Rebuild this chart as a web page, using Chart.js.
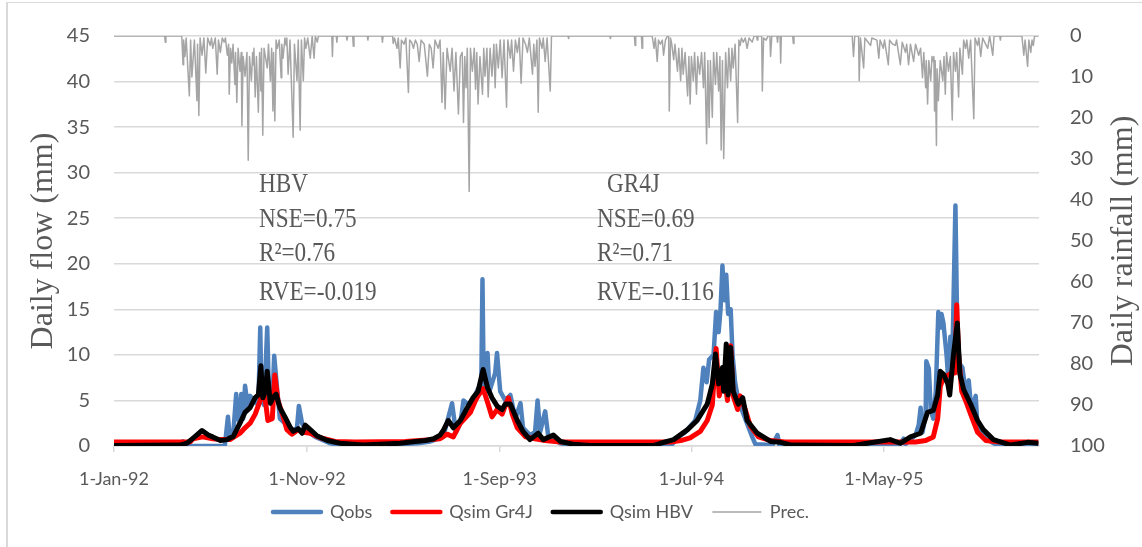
<!DOCTYPE html>
<html lang="en">
  <head>
    <meta charset="UTF-8" />
    <title>Daily flow and rainfall</title>
    <script src="https://cdn.jsdelivr.net/npm/chart.js"></script>
    <style>
      html, body { margin: 0; overflow: hidden; background: #fff; }
      .frame {
        position: absolute; left: 6px; top: 2px; width: 1300px; height: 700px;
        border-left: 2px solid #d9d9d9; border-top: 1px solid #d9d9d9;
      }
      canvas { position: absolute; left: 0; top: 0; }
    </style>
  </head>
  <body>
    <div class="frame"></div>
    <canvas id="flowChart" width="1142" height="547"></canvas>
    <script>
      // day 0 = 1-Jan-92
      const tickDays = [0, 305, 609, 912, 1216];
      const tickLabels = ["1-Jan-92", "1-Nov-92", "1-Sep-93", "1-Jul-94", "1-May-95"];

      const statsHBV = ["HBV", "NSE=0.75", "R\u00B2=0.76", "RVE=-0.019"];
      const statsGR4J = ["GR4J", "NSE=0.69", "R\u00B2=0.71", "RVE=-0.116"];

      // [day, mm]
      const qobs = [
        [0,0],[105,0],[109,0.5],[112,0],[175,0],[180,3.2],[183,0.8],[188,1],[193,5.7],[196,3],
        [199,2.5],[201,5.7],[204,3],[207,6.6],[212,4],[215,5.5],[220,5],[228,4.5],[231,13],[233,5],
        [237,4.5],[242,13],[245,5],[250,4.5],[253,9.9],[258,6],[262,3],[270,2.5],[278,1.5],[289,2],
        [292,4.4],[297,2.5],[302,1.8],[318,1],[341,0.3],[360,0.1],[420,0.1],[480,0.3],[500,0.5],[520,1],
        [534,4.7],[540,1.5],[547,2.5],[552,5],[560,4.5],[567,5],[575,6.3],[580,6],[582,18.3],[584,6],
        [590,10.2],[593,6],[602,8],[605,10.2],[610,6],[618,5],[626,5.6],[634,3],[642,4.7],[646,2],
        [657,1.2],[665,1.5],[669,5],[673,1.5],[681,3.8],[686,1],[705,0.3],[725,0.05],[880,0.05],[891,1],
        [902,1.5],[918,2.8],[926,5],[931,8.6],[936,7],[940,9.5],[947,10],[951,14.7],[955,12.5],[958,15],
        [961,19.8],[964,16],[967,18.8],[970,14.5],[974,15],[977,10],[981,7],[986,5],[997,3],[1008,1],
        [1013,0.2],[1040,0.1],[1048,1.2],[1051,0.1],[1240,0.1],[1247,0.8],[1250,0.2],[1266,1.2],[1271,2.3],[1274,4.2],
        [1277,1.5],[1282,3.5],[1283,9.3],[1287,8.5],[1290,4],[1294,3],[1298,6],[1302,14.7],[1305,13],[1307,14.5],
        [1310,13.5],[1315,10],[1318,7],[1321,12],[1324,9],[1329,26.4],[1332,12],[1336,9],[1340,8.6],[1345,6],
        [1350,7.2],[1354,4],[1361,5.5],[1364,2],[1377,0.8],[1392,0.2],[1460,0.1]
      ];

      const qsimGr4j = [
        [0,0.45],[120,0.45],[125,0.8],[140,1],[156,0.8],[168,0.7],[183,0.7],[199,1.4],[207,2],[215,2.5],
        [223,3.5],[231,5],[235,6.6],[240,4.5],[243,2.8],[250,3],[254,7.8],[259,5],[266,3.5],[273,1.8],
        [281,1.3],[291,1.8],[299,1.5],[310,1.4],[326,0.9],[349,0.5],[380,0.45],[460,0.5],[500,0.7],[515,0.8],
        [526,1.3],[536,1],[547,2.5],[563,3.7],[571,5],[575,5.5],[583,6.3],[590,4.8],[597,3.2],[605,4],
        [613,3.5],[623,5.3],[629,3.5],[637,2],[650,1],[665,0.8],[681,0.6],[705,0.45],[879,0.45],[895,0.6],
        [910,0.9],[926,1.6],[937,2.8],[945,4.5],[951,10.7],[956,5.5],[963,8],[969,5],[974,11],[978,5.5],
        [985,4],[989,5.5],[997,4],[1005,2.2],[1018,1],[1037,0.6],[1060,0.45],[1266,0.45],[1282,0.6],[1294,1],
        [1301,3],[1305,6.5],[1310,7.5],[1318,7.8],[1323,8],[1328,8],[1331,15.5],[1334,10],[1339,6],[1345,5],
        [1353,3.5],[1364,1.5],[1377,0.6],[1400,0.45],[1460,0.45]
      ];

      const qsimHbv = [
        [0,0.05],[104,0.1],[115,0.3],[125,0.87],[139,1.7],[149,1.2],[156,1],[168,0.6],[179,0.7],[183,0.9],
        [188,1],[199,2.5],[207,3.7],[215,4.2],[223,5.3],[228,5.6],[232,8.8],[235,5.3],[239,6],[242,8.2],
        [247,4.7],[251,5.3],[256,5.7],[262,4.2],[270,3.2],[278,2.1],[283,1.6],[291,1.9],[297,1.4],[302,2.3],
        [310,1.8],[321,1.1],[337,0.6],[357,0.3],[394,0.1],[452,0.3],[476,0.5],[492,0.6],[505,0.8],[515,1.2],
        [520,1.7],[528,2.8],[536,2],[547,2.8],[558,4.2],[567,5.3],[575,6],[583,8.4],[590,6.4],[597,5.3],
        [605,4.4],[613,4],[618,4.6],[626,4.6],[637,2.8],[646,1.6],[657,0.7],[670,1.4],[678,0.7],[694,1.2],
        [705,0.5],[725,0.2],[752,0.05],[852,0.05],[863,0.3],[884,0.7],[906,1.8],[921,2.8],[937,4.6],[945,6.8],
        [950,10.1],[955,6.8],[961,8.6],[963,6],[967,11.2],[970,5.6],[974,10.8],[978,6],[986,4.6],[993,5.3],
        [1000,2.8],[1016,1.4],[1037,0.5],[1053,0.4],[1070,0.1],[1168,0.05],[1190,0.3],[1226,0.7],[1242,0.3],[1258,1],
        [1274,1.4],[1285,3.7],[1294,3.9],[1301,5.6],[1305,8.2],[1310,7.9],[1317,6.8],[1320,5.6],[1326,10.1],[1332,13.5],
        [1336,7.9],[1342,6.2],[1353,4.6],[1364,2.8],[1373,1.8],[1389,0.7],[1416,0.1],[1443,0.4],[1460,0.3]
      ];

      const rainfall = [
        [0,0],[80,0],[81,1.5],[82,0],[107,0],[109,7],[110,1],[112,5],[114,0.5],[119,14.6],[121,1],[123,10],
        [127,1],[131,15.8],[132,2],[134,19.4],[136,0.5],[139,4.7],[142,0.5],[145,9],[148,0.5],[152,2.3],
        [154,0.5],[156,3],[160,0.5],[163,9.3],[165,1],[168,4],[171,0.5],[174,1.5],[176,0.5],[179,4.7],
        [181,2],[182,14.2],[184,3],[186,6.6],[188,2],[191,11.8],[192,4],[194,16.2],[196,3],[199,8.6],
        [201,4],[202,21.9],[204,5],[207,9.8],[210,4],[212,30.3],[214,5],[217,10.9],[219,4],[220,7],
        [221,3],[223,14.9],[225,5],[228,18.6],[230,4],[232,13.4],[233,3],[235,24.2],[237,3],[242,7.8],
        [244,2],[247,11],[249,3],[251,18.3],[252,4],[254,20.7],[256,1],[258,3],[261,1],[264,10.2],
        [265,2],[267,5.4],[270,0.5],[272,2.3],[273,0.5],[275,9.3],[278,1],[283,24.7],[285,2],[289,10.9],
        [291,1],[294,23],[296,1],[299,10.9],[301,0.5],[303,3],[306,0.5],[310,5.4],[313,0],[316,5.4],
        [318,0],[321,1.5],[323,0],[344,0],[345,5],[346,0],[351,0],[352,1.5],[353,0],[367,0],[368,1],
        [369,0],[377,0],[378,2.5],[379,0],[400,0],[401,1],[402,0],[423,0],[424,1.5],[425,0],
        [440,0],[441,1.8],[443,0.5],[447,3],[449,0.5],[452,7.8],[454,1],[458,2],[461,0.5],[465,13.8],
        [467,1],[470,1.5],[473,3],[476,1],[479,2],[482,6.2],[485,1],[490,2],[495,9.8],[498,2],[501,3],
        [504,7.8],[507,1],[512,3],[515,1],[518,16.2],[520,4],[523,17.8],[526,3],[531,8.6],[534,3],
        [537,13.4],[540,4],[544,19],[547,5],[550,4],[552,21.1],[554,5],[556,12.6],[558,3],[561,37.9],
        [563,3],[566,8.6],[569,3],[571,13],[573,4],[575,16.6],[578,5],[582,14.2],[584,3],[586,9.8],
        [589,3],[591,14.9],[594,3],[597,9.8],[600,2],[602,12.6],[604,2],[607,7.8],[610,1],[613,10.2],
        [616,1],[620,17.4],[622,1],[626,5.4],[628,1],[631,8.6],[634,1],[637,4],[640,0.5],[643,11.5],
        [646,0.5],[650,2],[653,4],[656,0.5],[661,9.3],[663,2],[665,7.4],[668,1],[670,18.6],[672,0.5],
        [676,3],[678,0.5],[681,6.2],[684,0.5],[689,13.4],[691,0],[717,0],[718,0.6],[719,0],[783,0],
        [784,0.6],[785,0],[822,0],[823,2.3],[824,0],[833,0],[834,3],[835,0],
        [850,0],[853,3],[855,0.5],[858,6.2],[860,1],[863,2],[866,1],[868,4.7],[871,1],[874,0],[876,0],
        [877,18.3],[879,0.5],[881,2],[884,5.8],[886,2],[890,8.6],[892,3],[895,10.9],[897,3],[899,9.3],
        [902,4],[906,14.6],[908,5],[910,16.6],[912,5],[915,10.9],[917,4],[920,14.2],[922,5],[925,9.3],
        [928,4],[931,12.6],[933,4],[936,26.3],[938,6],[940,22.3],[942,6],[945,19.8],[947,4],[950,11.8],
        [952,4],[955,13.4],[957,5],[959,27.8],[961,6],[963,29.9],[966,4],[969,12.6],[971,3],[974,10.9],
        [976,3],[978,7.8],[981,2],[985,21.1],[987,1],[989,2.3],[991,0.5],[994,1.5],[997,0.5],[1000,3],
        [1003,0.5],[1008,1.5],[1011,0],[1015,0],[1016,1],[1017,0],[1023,0],[1024,13.4],[1026,0.5],[1030,1],
        [1033,0],[1036,0],[1037,5],[1039,0],[1047,0],[1048,1.5],[1049,0],[1052,0],[1053,6.6],[1054,0],
        [1072,0],[1073,1.8],[1074,0],
        [1166,0],[1168,5],[1170,0],[1176,0],[1177,10.9],[1179,0.5],[1184,7.8],[1186,0.5],[1195,2.3],
        [1197,0.5],[1205,1],[1208,5.4],[1210,1],[1215,3],[1217,1],[1223,7],[1225,1],[1230,2],[1234,2.3],
        [1236,1],[1242,7],[1245,1.5],[1250,4],[1252,2],[1255,7],[1258,2],[1263,6.2],[1266,2],[1271,4.7],
        [1274,3],[1277,10.2],[1279,4],[1282,12.6],[1283,6],[1285,16.6],[1287,6],[1290,10.9],[1292,5],
        [1294,6.2],[1295,5],[1296,18.3],[1297,6],[1299,26.7],[1300,8],[1302,15.8],[1305,6],[1309,10.9],
        [1311,5],[1313,14.2],[1315,4],[1318,8.6],[1321,5],[1324,20.5],[1326,4],[1329,8.6],[1331,4],
        [1334,14.9],[1336,3],[1340,9.3],[1342,1],[1345,3],[1347,1],[1350,5.4],[1353,1],[1358,20.2],
        [1360,0.5],[1364,2.3],[1366,0.5],[1369,5],[1372,0.5],[1380,3],[1383,0],[1388,4.7],[1390,0],
        [1399,0],[1400,1],[1401,0],[1434,0],[1437,4.7],[1439,1],[1443,7.4],[1445,1],[1448,4],[1450,1],
        [1452,2.3],[1454,0],[1460,0]
      ];

      const toXY = (pairs) => pairs.map(([d, v]) => ({ x: d, y: v }));
      const grey = "#595959";
      const tickFont = { family: "Lato", size: 18 };
      const valueFont = { family: "Lato", size: 20 };

      // stats text and right-hand axis title
      const notesPlugin = {
        id: "notes",
        afterDraw(chart) {
          const { ctx } = chart;
          const rows = [192, 227, 261, 300];
          ctx.save();
          ctx.fillStyle = grey;
          ctx.font = '27px "Liberation Serif"';
          ctx.textBaseline = "alphabetic";
          const put = (txt, x, y) => {
            ctx.save();
            ctx.translate(x, y);
            ctx.scale(0.86, 1);
            ctx.fillText(txt, 0, 0);
            ctx.restore();
          };
          statsHBV.forEach((t, i) => put(t, 259, rows[i]));
          statsGR4J.forEach((t, i) => put(t, i === 0 ? 607 : 597, rows[i]));

          ctx.font = '32px "Liberation Serif"';
          ctx.textAlign = "center";
          ctx.textBaseline = "middle";
          ctx.translate(1124, chart.chartArea.top + chart.chartArea.height / 2);
          ctx.rotate(-Math.PI / 2);
          ctx.fillText("Daily rainfall (mm)", 0, 0);
          ctx.restore();
        },
      };

      // nudge the legend to where the original sits
      const legendShift = {
        id: "legendShift",
        afterLayout(chart) {
          const lg = chart.legend;
          lg.left -= 34;
          lg.right -= 34;
          lg.top -= 7;
          lg.bottom -= 7;
        },
      };

      new Chart(document.getElementById("flowChart").getContext("2d"), {
        type: "line",
        data: {
          datasets: [
            {
              label: "Qobs",
              data: toXY(qobs),
              borderColor: "#4F81BD",
              borderWidth: 4.5,
              order: 3,
            },
            {
              label: "Qsim Gr4J",
              data: toXY(qsimGr4j),
              borderColor: "#FF0000",
              borderWidth: 5,
              order: 2,
            },
            {
              label: "Qsim HBV",
              data: toXY(qsimHbv),
              borderColor: "#000000",
              borderWidth: 5,
              order: 1,
            },
            {
              label: "Prec.",
              data: toXY(rainfall),
              borderColor: "#A5A5A5",
              borderWidth: 1.5,
              yAxisID: "y2",
              order: 4,
            },
          ],
        },
        options: {
          responsive: false,
          animation: false,
          elements: {
            point: { radius: 0 },
            line: { tension: 0, borderJoinStyle: "round" },
          },
          layout: { autoPadding: false, padding: { left: 8, right: 0, top: 26, bottom: 9 } },
          plugins: {
            tooltip: { enabled: false },
            legend: {
              position: "bottom",
              labels: {
                usePointStyle: true,
                pointStyleWidth: 48,
                boxHeight: 18,
                padding: 20,
                color: grey,
                font: tickFont,
                generateLabels: (chart) =>
                  chart.data.datasets.map((ds, i) => ({
                    text: ds.label,
                    strokeStyle: ds.borderColor,
                    fillStyle: ds.borderColor,
                    lineWidth: Math.min(ds.borderWidth, 4.5),
                    lineCap: "round",
                    pointStyle: "line",
                    fontColor: grey,
                    hidden: false,
                    datasetIndex: i,
                  })),
              },
            },
          },
          scales: {
            x: {
              type: "linear",
              min: 0,
              max: 1461,
              afterBuildTicks: (scale) => {
                scale.ticks = tickDays.map((v) => ({ value: v }));
              },
              afterFit: (scale) => {
                scale.height = 44;
              },
              ticks: {
                callback: (v) => tickLabels[tickDays.indexOf(v)],
                color: grey,
                font: tickFont,
                padding: 16,
                maxRotation: 0,
                autoSkip: false,
              },
              grid: { drawOnChartArea: false, color: "#d9d9d9", tickLength: 6, lineWidth: 1.5 },
              border: { color: "#d9d9d9", width: 1.5 },
            },
            y: {
              min: 0,
              max: 45,
              afterFit: (scale) => {
                scale.width = 106;
              },
              ticks: { stepSize: 5, color: grey, font: valueFont, padding: 24 },
              grid: { color: "#d9d9d9", lineWidth: 1.5, drawTicks: false },
              border: { display: false },
              title: {
                display: true,
                text: "Daily flow (mm)",
                color: grey,
                font: { family: "Liberation Serif", size: 32 },
                padding: { top: 16, bottom: 0 },
              },
            },
            y2: {
              position: "right",
              min: 0,
              max: 100,
              reverse: true,
              afterFit: (scale) => {
                scale.width = 103;
              },
              ticks: { stepSize: 10, color: grey, font: valueFont, padding: 23 },
              grid: { display: false },
              border: { display: false },
            },
          },
        },
        plugins: [notesPlugin, legendShift],
      });
    </script>
  </body>
</html>
